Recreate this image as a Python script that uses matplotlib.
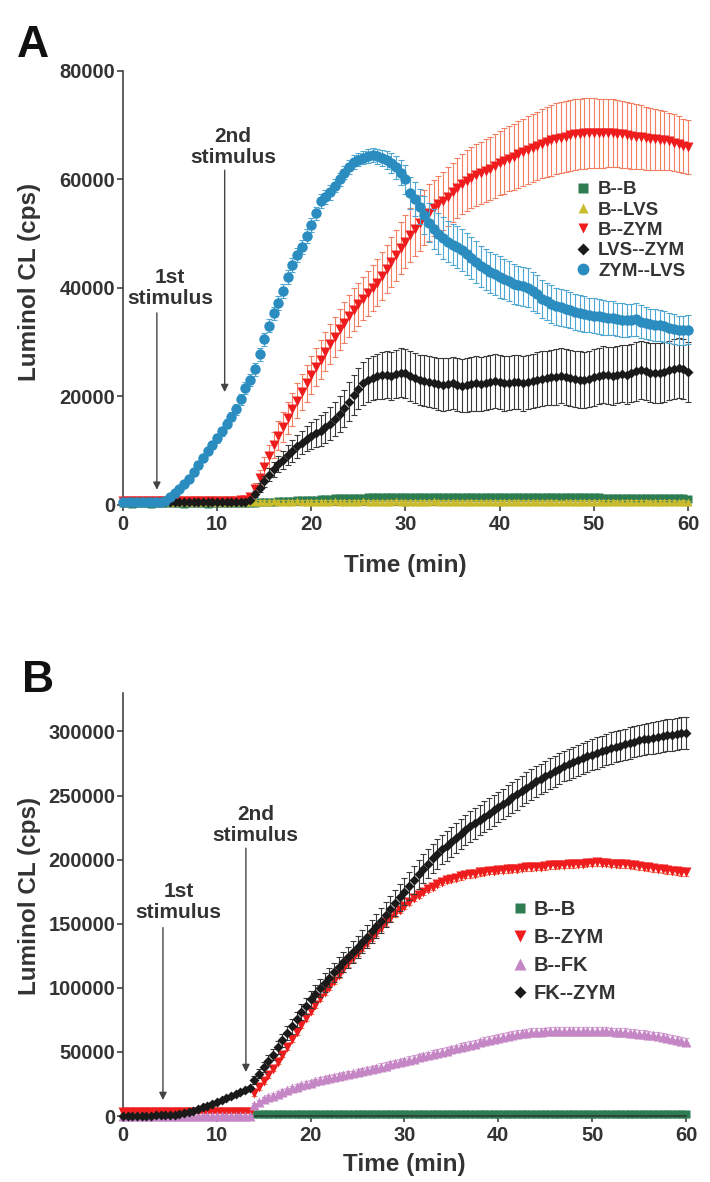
import numpy as np
import matplotlib.pyplot as plt
from matplotlib.lines import Line2D
from matplotlib.ticker import FormatStrFormatter

plt.rcParams['font.family'] = ['Liberation Sans', 'DejaVu Sans']
plt.rcParams['font.weight'] = 'bold'
plt.rcParams['axes.labelweight'] = 'bold'

TXT = '#333333'

# readings every 0.5 min, 0 to 60 min
time_min = np.arange(0, 60.5, 0.5)

# ---------- Panel A (values in 1000 cps) ----------
a_b_b = [0.3, 0.3, 0.2, 0.3, 0.3, 0.3, 0.2, 0.3, 0.3, 0.3,
         0.3, 0.3, 0.3, 0.2, 0.3, 0.3, 0.3, 0.3, 0.2, 0.3,
         0.3, 0.3, 0.3, 0.3, 0.3, 0.3, 0.3, 0.3, 0.4, 0.5,
         0.5, 0.6, 0.6, 0.7, 0.7, 0.8, 0.8, 0.9, 0.9, 1.0,
         1.0, 1.0, 1.1, 1.1, 1.1, 1.2, 1.2, 1.2, 1.3, 1.3,
         1.3, 1.3, 1.4, 1.4, 1.4, 1.4, 1.4, 1.5, 1.5, 1.5,
         1.5, 1.5, 1.5, 1.4, 1.5, 1.5, 1.5, 1.5, 1.4, 1.5,
         1.5, 1.5, 1.5, 1.5, 1.4, 1.4, 1.5, 1.5, 1.5, 1.5,
         1.5, 1.5, 1.4, 1.4, 1.4, 1.5, 1.5, 1.4, 1.4, 1.4,
         1.4, 1.4, 1.4, 1.4, 1.4, 1.4, 1.4, 1.4, 1.4, 1.4,
         1.4, 1.4, 1.3, 1.3, 1.3, 1.3, 1.3, 1.3, 1.3, 1.3,
         1.3, 1.3, 1.3, 1.3, 1.3, 1.3, 1.2, 1.2, 1.2, 1.2,
         1.1]
a_b_b_err = [0.3, 0.3, 0.3, 0.3, 0.3, 0.3, 0.3, 0.3, 0.3, 0.3,
             0.3, 0.3, 0.3, 0.3, 0.3, 0.3, 0.3, 0.3, 0.3, 0.3,
             0.3, 0.3, 0.3, 0.3, 0.3, 0.3, 0.3, 0.3, 0.3, 0.3,
             0.3, 0.3, 0.4, 0.4, 0.4, 0.4, 0.4, 0.4, 0.4, 0.4,
             0.4, 0.4, 0.4, 0.4, 0.4, 0.4, 0.4, 0.4, 0.4, 0.4,
             0.4, 0.4, 0.4, 0.4, 0.4, 0.4, 0.4, 0.4, 0.4, 0.4,
             0.4, 0.4, 0.4, 0.4, 0.4, 0.4, 0.4, 0.4, 0.4, 0.4,
             0.4, 0.4, 0.4, 0.4, 0.4, 0.4, 0.4, 0.4, 0.4, 0.4,
             0.4, 0.4, 0.4, 0.4, 0.4, 0.4, 0.4, 0.4, 0.4, 0.4,
             0.4, 0.4, 0.4, 0.4, 0.4, 0.4, 0.4, 0.4, 0.4, 0.4,
             0.4, 0.4, 0.4, 0.4, 0.4, 0.4, 0.4, 0.4, 0.4, 0.4,
             0.4, 0.4, 0.4, 0.4, 0.4, 0.4, 0.4, 0.4, 0.4, 0.4,
             0.4]
a_b_lvs = [0.6, 0.6, 0.7, 0.6, 0.6, 0.7, 0.6, 0.6, 0.6, 0.7,
           0.6, 0.6, 0.6, 0.7, 0.6, 0.6, 0.6, 0.6, 0.7, 0.6,
           0.6, 0.6, 0.6, 0.6, 0.7, 0.6, 0.6, 0.6, 0.6, 0.6,
           0.6, 0.6, 0.7, 0.6, 0.6, 0.6, 0.6, 0.7, 0.6, 0.6,
           0.6, 0.6, 0.6, 0.6, 0.6, 0.7, 0.6, 0.6, 0.6, 0.6,
           0.6, 0.7, 0.6, 0.6, 0.6, 0.6, 0.6, 0.6, 0.7, 0.6,
           0.6, 0.6, 0.6, 0.6, 0.6, 0.6, 0.7, 0.6, 0.6, 0.6,
           0.6, 0.6, 0.6, 0.6, 0.6, 0.6, 0.6, 0.6, 0.6, 0.6,
           0.6, 0.6, 0.6, 0.6, 0.6, 0.6, 0.6, 0.6, 0.6, 0.6,
           0.6, 0.6, 0.6, 0.5, 0.6, 0.6, 0.6, 0.6, 0.6, 0.6,
           0.6, 0.6, 0.6, 0.6, 0.6, 0.5, 0.6, 0.6, 0.6, 0.6,
           0.6, 0.6, 0.5, 0.6, 0.6, 0.6, 0.6, 0.6, 0.5, 0.6,
           0.5]
a_b_lvs_err = [0.3, 0.3, 0.3, 0.3, 0.3, 0.3, 0.3, 0.3, 0.3, 0.3,
               0.3, 0.3, 0.3, 0.3, 0.3, 0.3, 0.3, 0.3, 0.3, 0.3,
               0.3, 0.3, 0.3, 0.3, 0.3, 0.3, 0.3, 0.3, 0.3, 0.3,
               0.3, 0.3, 0.3, 0.3, 0.3, 0.3, 0.3, 0.3, 0.3, 0.3,
               0.3, 0.3, 0.3, 0.3, 0.3, 0.3, 0.3, 0.3, 0.3, 0.3,
               0.3, 0.3, 0.3, 0.3, 0.3, 0.3, 0.3, 0.3, 0.3, 0.3,
               0.3, 0.3, 0.3, 0.3, 0.3, 0.3, 0.3, 0.3, 0.3, 0.3,
               0.3, 0.3, 0.3, 0.3, 0.3, 0.3, 0.3, 0.3, 0.3, 0.3,
               0.3, 0.3, 0.3, 0.3, 0.3, 0.3, 0.3, 0.3, 0.3, 0.3,
               0.3, 0.3, 0.3, 0.3, 0.3, 0.3, 0.3, 0.3, 0.3, 0.3,
               0.3, 0.3, 0.3, 0.3, 0.3, 0.3, 0.3, 0.3, 0.3, 0.3,
               0.3, 0.3, 0.3, 0.3, 0.3, 0.3, 0.3, 0.3, 0.3, 0.3,
               0.3]
a_b_zym = [0.8, 0.8, 0.8, 0.8, 0.8, 0.8, 0.8, 0.8, 0.8, 0.8,
           0.8, 0.8, 0.8, 0.8, 0.8, 0.8, 0.8, 0.8, 0.8, 0.8,
           0.8, 0.8, 0.8, 0.8, 0.8, 0.9, 0.9, 1.5, 3.0, 5.0,
           7.0, 9.0, 11.0, 12.8, 14.4, 16.0, 17.6, 19.2, 20.8, 22.4,
           24.0, 25.4, 26.8, 28.2, 29.6, 31.0, 32.4, 33.6, 34.8, 36.0,
           37.0, 38.0, 39.0, 40.0, 41.0, 42.2, 43.5, 44.8, 46.0, 47.3,
           48.5, 49.7, 50.9, 52.0, 53.0, 53.9, 54.7, 55.4, 56.0, 56.8,
           57.6, 58.4, 59.2, 59.8, 60.3, 60.8, 61.2, 61.6, 62.0, 62.4,
           63.0, 63.4, 63.8, 64.2, 64.6, 65.0, 65.4, 65.8, 66.2, 66.6,
           66.9, 67.2, 67.5, 67.7, 67.9, 68.1, 68.3, 68.4, 68.5, 68.6,
           68.6, 68.5, 68.5, 68.6, 68.5, 68.4, 68.3, 68.2, 68.0, 67.9,
           67.8, 67.6, 67.5, 67.4, 67.3, 67.2, 67.0, 66.8, 66.5, 66.2,
           66.0]
a_b_zym_err = [0.3, 0.3, 0.3, 0.3, 0.3, 0.3, 0.3, 0.3, 0.3, 0.3,
               0.3, 0.3, 0.3, 0.3, 0.3, 0.3, 0.3, 0.3, 0.3, 0.3,
               0.3, 0.3, 0.3, 0.3, 0.3, 0.3, 0.3, 0.6, 1.0, 1.4,
               1.8, 2.1, 2.4, 2.6, 2.8, 3.0, 3.1, 3.2, 3.3, 3.4,
               3.5, 3.5, 3.6, 3.6, 3.7, 3.7, 3.8, 3.8, 3.9, 3.9,
               4.0, 4.0, 4.1, 4.2, 4.3, 4.4, 4.5, 4.6, 4.7, 4.8,
               4.9, 5.0, 5.0, 5.1, 5.1, 5.2, 5.2, 5.3, 5.3, 5.4,
               5.4, 5.5, 5.5, 5.6, 5.6, 5.7, 5.7, 5.8, 5.8, 5.9,
               5.9, 6.0, 6.0, 6.1, 6.1, 6.2, 6.2, 6.3, 6.3, 6.4,
               6.4, 6.5, 6.5, 6.5, 6.5, 6.5, 6.5, 6.5, 6.5, 6.5,
               6.5, 6.4, 6.4, 6.3, 6.3, 6.2, 6.2, 6.1, 6.0, 6.0,
               5.9, 5.8, 5.7, 5.6, 5.5, 5.4, 5.3, 5.2, 5.1, 5.0,
               5.0]
a_lvs_zym = [0.5, 0.5, 0.5, 0.5, 0.5, 0.5, 0.5, 0.5, 0.5, 0.5,
             0.5, 0.5, 0.5, 0.6, 0.5, 0.5, 0.6, 0.5, 0.5, 0.5,
             0.5, 0.6, 0.5, 0.5, 0.6, 0.5, 0.6, 0.9, 2.0, 3.2,
             4.4, 5.6, 6.6, 7.5, 8.3, 9.2, 10.0, 10.8, 11.5, 12.2,
             12.8, 13.2, 13.7, 14.3, 15.0, 15.8, 16.8, 17.8, 19.0, 20.2,
             21.4, 22.4, 23.0, 23.4, 23.7, 23.9, 24.0, 23.8, 24.1, 24.4,
             24.3, 23.8, 23.4, 23.1, 22.9, 22.7, 22.5, 22.3, 22.2, 22.3,
             22.4, 22.2, 22.0, 22.1, 22.3, 22.4, 22.3, 22.5, 22.7, 22.8,
             22.6, 22.4, 22.5, 22.7, 22.6, 22.4, 22.6, 22.9, 23.1, 23.3,
             23.4, 23.5, 23.6, 23.8, 23.6, 23.4, 23.2, 23.1, 23.0, 23.2,
             23.5, 23.8, 24.0, 23.9, 23.8, 24.0, 24.2, 24.0, 24.3, 24.6,
             24.9, 24.7, 24.4, 24.3, 24.3, 24.5, 24.8, 25.1, 25.2, 25.0,
             24.5]
a_lvs_zym_err = [0.3, 0.3, 0.3, 0.3, 0.3, 0.3, 0.3, 0.3, 0.3, 0.3,
                 0.3, 0.3, 0.3, 0.3, 0.3, 0.3, 0.3, 0.3, 0.3, 0.3,
                 0.3, 0.3, 0.3, 0.3, 0.3, 0.3, 0.3, 0.4, 0.6, 0.8,
                 1.0, 1.2, 1.4, 1.5, 1.7, 1.8, 2.0, 2.1, 2.2, 2.3,
                 2.5, 2.6, 2.8, 2.9, 3.0, 3.1, 3.3, 3.4, 3.6, 3.7,
                 3.8, 3.9, 4.0, 4.1, 4.2, 4.3, 4.3, 4.4, 4.4, 4.5,
                 4.5, 4.6, 4.6, 4.6, 4.7, 4.7, 4.7, 4.8, 4.8, 4.8,
                 4.8, 4.9, 4.9, 4.9, 4.9, 5.0, 5.0, 5.0, 5.0, 5.0,
                 5.0, 5.0, 5.0, 5.0, 5.0, 5.0, 5.0, 5.0, 5.0, 5.0,
                 5.0, 5.0, 5.1, 5.1, 5.1, 5.1, 5.1, 5.2, 5.2, 5.2,
                 5.2, 5.2, 5.3, 5.3, 5.3, 5.3, 5.3, 5.4, 5.4, 5.4,
                 5.4, 5.4, 5.4, 5.5, 5.5, 5.5, 5.5, 5.5, 5.5, 5.5,
                 5.5]
a_zym_lvs = [0.5, 0.5, 0.5, 0.5, 0.5, 0.5, 0.5, 0.5, 0.6, 0.8,
             1.5, 2.2, 3.0, 3.8, 4.8, 6.0, 7.3, 8.6, 9.9, 11.0,
             12.3, 13.6, 15.0, 16.3, 17.6, 19.5, 21.5, 23.0, 25.0, 27.8,
             30.5, 33.0, 35.3, 37.2, 39.5, 42.0, 44.2, 46.0, 47.6, 49.5,
             51.6, 53.8, 56.0, 56.8, 57.6, 58.8, 60.0, 61.2, 62.3, 63.2,
             63.6, 64.0, 64.4, 64.5, 64.3, 64.0, 63.6, 63.0, 62.2, 61.2,
             60.0, 57.5, 56.4, 55.0, 53.5, 52.0, 50.8, 50.0, 49.2, 48.5,
             48.0, 47.6, 47.0, 46.2, 45.5, 44.8, 44.0, 43.4, 42.9, 42.5,
             42.0, 41.6, 41.2, 40.8, 40.5, 40.3, 40.0, 39.4, 38.8, 38.0,
             37.5, 37.0, 36.6, 36.4, 36.2, 35.9, 35.6, 35.4, 35.2, 35.0,
             34.9, 34.8, 34.6, 34.5, 34.4, 34.2, 34.1, 34.0, 34.1, 34.2,
             33.8, 33.5, 33.3, 33.2, 33.1, 32.9, 32.6, 32.4, 32.2, 32.2,
             32.3]
a_zym_lvs_err = [0.3, 0.3, 0.3, 0.3, 0.3, 0.3, 0.3, 0.3, 0.3, 0.3,
                 0.4, 0.4, 0.5, 0.5, 0.5, 0.6, 0.6, 0.6, 0.7, 0.7,
                 0.8, 0.8, 0.9, 0.9, 1.0, 1.0, 1.1, 1.1, 1.2, 1.2,
                 1.2, 1.2, 1.2, 1.3, 1.3, 1.3, 1.3, 1.3, 1.3, 1.3,
                 1.2, 1.2, 1.3, 1.3, 1.3, 1.2, 1.2, 1.2, 1.3, 1.3,
                 1.2, 1.2, 1.3, 1.3, 1.4, 1.5, 1.7, 1.9, 2.1, 2.3,
                 2.6, 2.9, 3.1, 3.3, 3.5, 3.6, 3.7, 3.8, 3.8, 3.8,
                 3.8, 3.9, 3.9, 3.9, 3.8, 3.8, 3.8, 3.8, 3.8, 3.8,
                 3.8, 3.7, 3.7, 3.7, 3.6, 3.6, 3.6, 3.6, 3.5, 3.5,
                 3.5, 3.5, 3.4, 3.4, 3.4, 3.3, 3.3, 3.3, 3.3, 3.2,
                 3.2, 3.2, 3.2, 3.1, 3.1, 3.1, 3.1, 3.0, 3.0, 3.0,
                 3.0, 3.0, 2.9, 2.9, 2.9, 2.8, 2.8, 2.8, 2.7, 2.7,
                 2.7]

# ---------- Panel B (values in 1000 cps) ----------
time_b_b = time_min[28:]   # B--B only recorded from 14 min
b_b_b = [1.5, 1.5, 1.6, 1.5, 1.5, 1.5, 1.6, 1.5, 1.5, 1.5,
         1.5, 1.6, 1.5, 1.5, 1.5, 1.5, 1.6, 1.5, 1.5, 1.5,
         1.5, 1.5, 1.5, 1.6, 1.5, 1.5, 1.5, 1.5, 1.5, 1.5,
         1.6, 1.5, 1.5, 1.5, 1.5, 1.5, 1.5, 1.5, 1.6, 1.5,
         1.5, 1.5, 1.5, 1.5, 1.5, 1.5, 1.5, 1.5, 1.5, 1.6,
         1.5, 1.5, 1.5, 1.5, 1.5, 1.5, 1.5, 1.5, 1.5, 1.5,
         1.5, 1.5, 1.6, 1.5, 1.5, 1.5, 1.5, 1.5, 1.5, 1.5,
         1.5, 1.5, 1.5, 1.5, 1.5, 1.6, 1.5, 1.5, 1.5, 1.5,
         1.5, 1.5, 1.5, 1.5, 1.5, 1.5, 1.5, 1.5, 1.6, 1.5,
         1.5, 1.5, 1.5]
b_b_b_err = [2.0, 2.0, 2.0, 2.0, 2.0, 2.0, 2.0, 2.0, 2.0, 2.0,
             2.0, 2.0, 2.0, 2.0, 2.0, 2.0, 2.0, 2.0, 2.0, 2.0,
             2.0, 2.0, 2.0, 2.0, 2.0, 2.0, 2.0, 2.0, 2.0, 2.0,
             2.0, 2.0, 2.0, 2.0, 2.0, 2.0, 2.0, 2.0, 2.0, 2.0,
             2.0, 2.0, 2.0, 2.0, 2.0, 2.0, 2.0, 2.0, 2.0, 2.0,
             2.0, 2.0, 2.0, 2.0, 2.0, 2.0, 2.0, 2.0, 2.0, 2.0,
             2.0, 2.0, 2.0, 2.0, 2.0, 2.0, 2.0, 2.0, 2.0, 2.0,
             2.0, 2.0, 2.0, 2.0, 2.0, 2.0, 2.0, 2.0, 2.0, 2.0,
             2.0, 2.0, 2.0, 2.0, 2.0, 2.0, 2.0, 2.0, 2.0, 2.0,
             2.0, 2.0, 2.0]
b_b_zym = [3.0, 2.9, 3.0, 3.1, 3.0, 3.0, 2.9, 3.0, 3.0, 3.1,
           3.0, 3.0, 2.9, 3.0, 3.1, 3.0, 3.0, 3.0, 2.9, 3.0,
           3.0, 3.0, 3.0, 3.1, 3.0, 3.0, 3.1, 3.0, 18.0, 22.5,
           27.0, 32.0, 37.0, 42.5, 48.0, 54.0, 60.0, 65.5, 71.0, 76.5,
           82.0, 87.0, 92.0, 96.5, 101.0, 105.5, 110.0, 114.5, 119.0, 123.0,
           127.0, 131.0, 135.0, 139.0, 143.0, 147.0, 151.0, 154.5, 158.0, 161.0,
           164.0, 167.0, 170.0, 172.5, 175.0, 177.0, 179.0, 181.0, 182.5, 184.0,
           185.0, 186.0, 187.0, 188.0, 188.5, 189.0, 190.0, 190.5, 191.0, 191.5,
           192.0, 192.0, 192.5, 193.0, 193.0, 193.5, 194.0, 194.0, 194.5, 194.5,
           195.0, 195.5, 195.5, 196.0, 196.0, 196.5, 196.5, 197.0, 197.0, 197.5,
           197.5, 198.0, 197.5, 197.5, 197.0, 197.0, 196.5, 196.5, 196.0, 195.5,
           195.0, 194.5, 194.0, 193.5, 193.0, 192.5, 192.0, 191.5, 191.0, 190.5,
           190.0]
b_b_zym_err = [0.8, 0.8, 0.8, 0.8, 0.8, 0.8, 0.8, 0.8, 0.8, 0.8,
               0.8, 0.8, 0.8, 0.8, 0.8, 0.8, 0.8, 0.8, 0.8, 0.8,
               0.8, 0.8, 0.8, 0.8, 0.8, 0.8, 0.8, 0.8, 2.0, 2.0,
               2.0, 2.0, 2.2, 2.2, 2.2, 2.2, 2.3, 2.3, 2.3, 2.3,
               2.4, 2.4, 2.4, 2.4, 2.5, 2.5, 2.5, 2.5, 2.5, 2.5,
               2.5, 2.5, 2.5, 2.5, 2.5, 2.5, 2.5, 2.5, 2.5, 2.5,
               2.5, 2.5, 2.5, 2.5, 2.5, 2.5, 2.5, 2.5, 2.5, 2.5,
               2.5, 2.5, 2.5, 2.5, 2.5, 2.5, 2.5, 2.5, 2.5, 2.5,
               2.6, 2.6, 2.6, 2.6, 2.6, 2.6, 2.6, 2.6, 2.6, 2.6,
               2.7, 2.7, 2.7, 2.7, 2.7, 2.7, 2.7, 2.7, 2.7, 2.7,
               2.8, 2.8, 2.8, 2.8, 2.8, 2.8, 2.8, 2.8, 2.8, 2.8,
               2.9, 2.9, 2.9, 2.9, 2.9, 2.9, 2.9, 2.9, 2.9, 2.9,
               3.0]
b_b_fk = [0.3, 0.3, 0.3, 0.3, 0.3, 0.3, 0.3, 0.3, 0.3, 0.3,
          0.3, 0.3, 0.3, 0.3, 0.3, 0.3, 0.3, 0.3, 0.3, 0.3,
          0.3, 0.3, 0.3, 0.3, 0.3, 0.3, 0.3, 0.3, 9.0, 11.0,
          13.0, 14.5, 16.0, 17.5, 19.0, 20.2, 21.5, 22.8, 24.0, 25.0,
          26.0, 27.0, 28.0, 28.8, 29.6, 30.4, 31.0, 31.8, 32.5, 33.2,
          34.0, 34.9, 35.8, 36.7, 37.6, 38.5, 39.4, 40.3, 41.2, 42.1,
          43.0, 43.9, 44.8, 45.7, 46.6, 47.5, 48.4, 49.3, 50.2, 51.1,
          52.0, 52.9, 53.8, 54.7, 55.6, 56.5, 57.4, 58.3, 59.2, 60.1,
          61.0, 61.8, 62.6, 63.3, 64.0, 64.5, 65.0, 65.3, 65.6, 65.8,
          66.0, 66.1, 66.2, 66.3, 66.4, 66.4, 66.5, 66.5, 66.5, 66.5,
          66.5, 66.4, 66.3, 66.2, 66.0, 65.8, 65.6, 65.3, 65.0, 64.7,
          64.3, 63.9, 63.4, 62.9, 62.3, 61.7, 61.0, 60.3, 59.6, 58.8,
          58.0]
b_b_fk_err = [0.3, 0.3, 0.3, 0.3, 0.3, 0.3, 0.3, 0.3, 0.3, 0.3,
              0.3, 0.3, 0.3, 0.3, 0.3, 0.3, 0.3, 0.3, 0.3, 0.3,
              0.3, 0.3, 0.3, 0.3, 0.3, 0.3, 0.3, 0.3, 1.5, 1.5,
              1.6, 1.6, 1.7, 1.7, 1.8, 1.8, 1.9, 1.9, 2.0, 2.0,
              2.0, 2.1, 2.1, 2.1, 2.2, 2.2, 2.2, 2.3, 2.3, 2.3,
              2.4, 2.4, 2.4, 2.5, 2.5, 2.5, 2.5, 2.6, 2.6, 2.6,
              2.6, 2.7, 2.7, 2.7, 2.7, 2.8, 2.8, 2.8, 2.8, 2.8,
              2.9, 2.9, 2.9, 2.9, 2.9, 3.0, 3.0, 3.0, 3.0, 3.0,
              3.0, 3.0, 3.0, 3.0, 3.0, 3.0, 3.0, 3.0, 3.0, 3.0,
              3.0, 3.0, 3.0, 3.0, 3.0, 3.0, 3.0, 3.0, 3.0, 3.0,
              3.0, 3.0, 3.0, 3.0, 3.0, 3.0, 3.0, 3.0, 3.0, 3.0,
              3.0, 3.0, 3.0, 3.0, 3.0, 3.0, 3.0, 3.0, 3.0, 3.0,
              3.0]
b_fk_zym = [0.2, 0.2, 0.3, 0.3, 0.3, 0.4, 0.4, 0.5, 0.6, 0.7,
            0.8, 1.2, 1.8, 2.5, 3.3, 4.3, 5.5, 6.8, 8.2, 9.6,
            11.0, 12.5, 14.0, 15.5, 17.0, 18.5, 20.0, 22.0, 28.0, 33.0,
            38.0, 43.0, 48.0, 53.5, 59.0, 64.5, 70.0, 75.5, 81.0, 86.0,
            91.0, 95.5, 100.0, 104.0, 108.0, 112.0, 116.0, 120.0, 124.0, 128.0,
            132.0, 136.0, 140.0, 144.0, 148.0, 152.5, 157.0, 161.5, 166.0, 170.5,
            175.0, 179.5, 184.0, 188.5, 193.0, 197.0, 201.0, 204.5, 208.0, 211.0,
            214.0, 217.0, 220.0, 223.0, 226.0, 228.5, 231.0, 233.5, 236.0, 238.5,
            241.0, 243.5, 246.0, 248.5, 251.0, 253.5, 256.0, 258.5, 261.0, 263.0,
            265.0, 267.0, 269.0, 271.0, 273.0, 274.5, 276.0, 277.5, 279.0, 280.5,
            282.0, 283.2, 284.5, 285.8, 287.0, 288.0, 289.0, 290.0, 291.0, 292.0,
            293.0, 293.8, 294.5, 295.2, 296.0, 296.5, 297.0, 297.5, 298.0, 298.5,
            299.0]
b_fk_zym_err = [0.5, 0.5, 0.5, 0.5, 0.5, 0.5, 0.5, 0.5, 0.5, 0.5,
                0.6, 0.6, 0.7, 0.7, 0.8, 0.8, 0.9, 0.9, 1.0, 1.0,
                1.1, 1.1, 1.2, 1.2, 1.3, 1.3, 1.4, 1.5, 3.0, 3.5,
                4.0, 4.3, 4.6, 4.9, 5.2, 5.5, 5.8, 6.0, 6.2, 6.4,
                6.6, 6.8, 7.0, 7.2, 7.4, 7.6, 7.8, 8.0, 8.2, 8.4,
                8.6, 8.8, 9.0, 9.2, 9.4, 9.6, 9.8, 10.0, 10.2, 10.4,
                10.6, 10.8, 11.0, 11.1, 11.2, 11.3, 11.4, 11.5, 11.6, 11.7,
                11.8, 11.8, 11.9, 11.9, 12.0, 12.0, 12.0, 12.0, 12.0, 12.0,
                12.0, 12.0, 12.0, 12.0, 12.0, 12.0, 12.0, 12.0, 12.0, 12.0,
                12.0, 12.0, 12.0, 12.0, 12.0, 12.0, 12.0, 12.0, 12.0, 12.0,
                12.1, 12.1, 12.1, 12.2, 12.2, 12.2, 12.3, 12.3, 12.3, 12.3,
                12.4, 12.4, 12.4, 12.4, 12.5, 12.5, 12.5, 12.5, 12.5, 12.5,
                12.5]

labels_a = ['B--B', 'B--LVS', 'B--ZYM', 'LVS--ZYM', 'ZYM--LVS']
labels_b = ['B--B', 'B--ZYM', 'B--FK', 'FK--ZYM']

GREEN, GREEN_E = '#2e7d52', '#4f9a6e'
YELLOW, YELLOW_E = '#c9bb2c', '#b8b040'
RED, RED_E = '#ee1c1c', '#f37f62'
BLACK, BLACK_E = '#1a1a1a', '#3a3a3a'
BLUE, BLUE_E = '#2b8cc0', '#4ea6d2'
PINK, PINK_E = '#c586c5', '#d9a9d9'


def draw(ax, t, vals, errs, color, ecolor, marker, ms, z):
    y = np.array(vals) * 1000
    e = np.array(errs) * 1000
    cont = ax.errorbar(t, y, yerr=e, fmt=marker, color=color, ms=ms, mec='none',
                       ecolor=ecolor, elinewidth=0.8, capsize=2.5, capthick=0.8,
                       zorder=z)
    for art in cont.get_children():
        art.set_clip_on(False)


def style(ax, ymax, yticks):
    for s in ['top', 'right']:
        ax.spines[s].set_visible(False)
    for s in ['left', 'bottom']:
        ax.spines[s].set_color(TXT)
        ax.spines[s].set_linewidth(1.1)
    ax.set_xlim(0, 60)
    ax.set_ylim(0, ymax)
    ax.set_xticks([0, 10, 20, 30, 40, 50, 60])
    ax.set_yticks(yticks)
    ax.yaxis.set_major_formatter(FormatStrFormatter('%d'))
    ax.tick_params(direction='out', length=4, width=1.1, colors=TXT, labelsize=14.5)
    ax.tick_params(axis='y', pad=1.5)
    ax.tick_params(axis='x', pad=3)
    ax.set_xlabel('Time (min)', fontsize=17.5, color=TXT, fontweight='bold')
    ax.set_ylabel('Luminol CL (cps)', fontsize=17.5, color=TXT, fontweight='bold')


def stim(ax, tx, ty, text, t_arrow, y_tail, y_head):
    ax.text(tx, ty, text, ha='center', va='center', fontsize=15, color=TXT,
            linespacing=1.15)
    ax.annotate('', xy=(t_arrow, y_head), xytext=(t_arrow, y_tail),
                arrowprops=dict(arrowstyle='-|>', color='#444444', lw=1.0,
                                mutation_scale=11, shrinkA=0, shrinkB=0))


fig = plt.figure(figsize=(7.1, 11.82), dpi=100)

# ---------- Panel A ----------
axA = fig.add_axes([0.1732, 0.5728, 0.7958, 0.3672])
draw(axA, time_min, a_b_b, a_b_b_err, GREEN, GREEN_E, 's', 5.5, 2)
draw(axA, time_min, a_b_lvs, a_b_lvs_err, YELLOW, YELLOW_E, '^', 6, 3)
draw(axA, time_min, a_b_zym, a_b_zym_err, RED, RED_E, 'v', 7, 4)
draw(axA, time_min, a_lvs_zym, a_lvs_zym_err, BLACK, BLACK_E, 'D', 5.5, 5)
draw(axA, time_min, a_zym_lvs, a_zym_lvs_err, BLUE, BLUE_E, 'o', 7.5, 6)
style(axA, 80000, [0, 20000, 40000, 60000, 80000])
axA.xaxis.set_label_coords(0.5, -0.112)
axA.yaxis.set_label_coords(-0.145, 0.514)
stim(axA, 5.0, 40000, '1st\nstimulus', 3.6, 35400, 2800)
stim(axA, 11.7, 66000, '2nd\nstimulus', 10.8, 61700, 20800)

handles_a = [Line2D([], [], ls='none', marker=m, color=c, ms=s, mec='none')
             for m, c, s in [('s', GREEN, 7), ('^', YELLOW, 7.5), ('v', RED, 7.5),
                             ('D', BLACK, 6), ('o', BLUE, 8.5)]]
legA = axA.legend(handles_a, labels_a, loc='upper left', bbox_to_anchor=(0.798, 0.746),
                  frameon=False, fontsize=13.5, handlelength=1.0, handletextpad=0.3,
                  labelspacing=0.17, borderpad=0, borderaxespad=0)
for t in legA.get_texts():
    t.set_color(TXT)

# ---------- Panel B ----------
axB = fig.add_axes([0.1732, 0.0558, 0.7930, 0.3579])
draw(axB, time_b_b, b_b_b, b_b_b_err, GREEN, GREEN_E, 's', 6, 2)
draw(axB, time_min, b_b_zym, b_b_zym_err, RED, RED_E, 'v', 7, 3)
draw(axB, time_min, b_b_fk, b_b_fk_err, PINK, PINK_E, '^', 6.5, 4)
draw(axB, time_min, b_fk_zym, b_fk_zym_err, BLACK, BLACK_E, 'D', 5.5, 5)
style(axB, 330000, [0, 50000, 100000, 150000, 200000, 250000, 300000])
axB.xaxis.set_label_coords(0.5, -0.088)
axB.yaxis.set_label_coords(-0.145, 0.52)
stim(axB, 5.9, 167000, '1st\nstimulus', 4.26, 147000, 12500)
stim(axB, 14.1, 227000, '2nd\nstimulus', 13.1, 209000, 34300)

handles_b = [Line2D([], [], ls='none', marker=m, color=c, ms=s, mec='none')
             for m, c, s in [('s', GREEN, 7.5), ('v', RED, 8), ('^', PINK, 8),
                             ('D', BLACK, 6)]]
legB = axB.legend(handles_b, labels_b, loc='upper left', bbox_to_anchor=(0.691, 0.510),
                  frameon=False, fontsize=14.5, handlelength=0.8, handletextpad=0.25,
                  labelspacing=0.45, borderpad=0, borderaxespad=0)
for t in legB.get_texts():
    t.set_color(TXT)

fig.text(17 / 710, 1 - 57 / 1182, 'A', fontsize=32, color='#111111', va='baseline')
fig.text(22 / 710, 1 - 692 / 1182, 'B', fontsize=32, color='#111111', va='baseline')

fig.savefig('out.png', dpi=100)
